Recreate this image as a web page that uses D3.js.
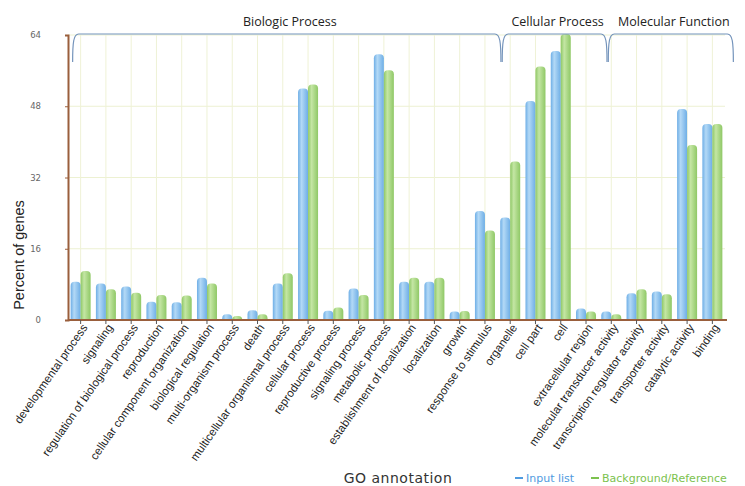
<!DOCTYPE html>
<html>
<head>
<meta charset="utf-8">
<script src="https://cdn.jsdelivr.net/npm/d3@7"></script>
<style>
  body { margin: 0; background: #fff; }
</style>
</head>
<body>
<div id="chart"></div>
<script>
var categories = [
    "developmental process", "signaling", "regulation of biological process", "reproduction",
    "cellular component organization", "biological regulation", "multi-organism process", "death",
    "multicellular organismal process", "cellular process", "reproductive process", "signaling process",
    "metabolic process", "establishment of localization", "localization", "growth",
    "response to stimulus", "organelle", "cell part", "cell", "extracellular region",
    "molecular transducer activity", "transcription regulator activity", "transporter activity",
    "catalytic activity", "binding"
];
var inputList = [8.6, 8.2, 7.5, 4.1, 4.0, 9.5, 1.3, 2.2, 8.2, 52.0, 2.1, 7.1, 59.7, 8.6, 8.6, 1.9,
    24.5, 23.0, 49.2, 60.4, 2.6, 1.9, 6.0, 6.4, 47.4, 44.0];
var background = [11.0, 6.9, 6.1, 5.6, 5.5, 8.2, 0.9, 1.3, 10.5, 52.9, 2.8, 5.6, 56.1, 9.5, 9.5, 2.0,
    20.1, 35.6, 56.9, 64.2, 1.9, 1.3, 6.9, 5.8, 39.3, 44.0];
var yTicks = [0, 16, 32, 48, 64];
var groups = [
    { name: "Biologic Process", first: 0, last: 16 },
    { name: "Cellular Process", first: 17, last: 20 },
    { name: "Molecular Function", first: 21, last: 25 }
];
var seriesNames = ["Input list", "Background/Reference"];

(function () {
    var width = 745, height = 486;
    var mLeft = 68, mRight = 725, mTop = 35, mBottom = 320;

    var svg = d3.select("#chart").append("svg")
        .attr("width", width)
        .attr("height", height)
        .style("font-family", "'Liberation Sans', Arial, sans-serif");

    var defs = svg.append("defs");
    function gradient(id, edge, light) {
        var g = defs.append("linearGradient").attr("id", id)
            .attr("x1", "0%").attr("x2", "100%").attr("y1", "0%").attr("y2", "0%");
        g.append("stop").attr("offset", "0%").attr("stop-color", edge);
        g.append("stop").attr("offset", "35%").attr("stop-color", light);
        g.append("stop").attr("offset", "100%").attr("stop-color", edge);
    }
    gradient("gBlue", "#6eaee6", "#b3d9f6");
    gradient("gGreen", "#8fc866", "#c4e6a4");

    var x = d3.scaleBand().domain(categories).range([mLeft, mRight]).padding(0);
    var y = d3.scaleLinear().domain([0, 64]).range([mBottom, mTop]);
    var bw = x.bandwidth();
    var barW = 10;

    // grid
    svg.append("g").selectAll("line").data(yTicks.slice(1)).enter().append("line")
        .attr("x1", mLeft).attr("x2", mRight)
        .attr("y1", function (d) { return y(d); }).attr("y2", function (d) { return y(d); })
        .attr("stroke", "#edf1d2").attr("stroke-width", 1);
    svg.append("g").selectAll("line").data(categories).enter().append("line")
        .attr("x1", function (d) { return x(d) + bw / 2; })
        .attr("x2", function (d) { return x(d) + bw / 2; })
        .attr("y1", mTop).attr("y2", mBottom)
        .attr("stroke", "#eff2d6").attr("stroke-width", 1);

    // bars with rounded tops
    function barPath(x0, w, v) {
        var yt = y(v), yb = y(0), r = Math.min(4, (yb - yt));
        return "M" + x0 + "," + yb + "L" + x0 + "," + (yt + r) +
            "Q" + x0 + "," + yt + " " + (x0 + r) + "," + yt +
            "L" + (x0 + w - r) + "," + yt +
            "Q" + (x0 + w) + "," + yt + " " + (x0 + w) + "," + (yt + r) +
            "L" + (x0 + w) + "," + yb + "Z";
    }
    var bars = svg.append("g");
    bars.selectAll(".blue").data(categories).enter().append("path")
        .attr("d", function (d, i) { return barPath(x(d) + bw / 2 - barW, barW, inputList[i]); })
        .attr("fill", "url(#gBlue)");
    bars.selectAll(".green").data(categories).enter().append("path")
        .attr("d", function (d, i) { return barPath(x(d) + bw / 2, barW, background[i]); })
        .attr("fill", "url(#gGreen)");

    // axes
    var yAxis = svg.append("g").attr("transform", "translate(" + mLeft + ",0)")
        .call(d3.axisLeft(y).tickValues(yTicks).tickSize(3).tickPadding(24));
    yAxis.select(".domain").attr("stroke", "#9a5f3c").attr("stroke-width", 2);
    yAxis.selectAll(".tick line").attr("stroke", "#9a5f3c");
    yAxis.selectAll("text").attr("fill", "#666").style("font-family", "'DejaVu Sans', sans-serif")
        .style("font-size", "8.5px");

    var xAxis = svg.append("g").attr("transform", "translate(0," + mBottom + ")")
        .call(d3.axisBottom(x).tickSize(4).tickSizeOuter(0));
    xAxis.select(".domain").attr("stroke", "#9a5f3c").attr("stroke-width", 2)
        .attr("d", "M" + mLeft + ",0H" + (mRight + 2));
    xAxis.selectAll(".tick line").attr("stroke", "#555");
    xAxis.selectAll("text")
        .attr("text-anchor", "end")
        .attr("dx", "-2")
        .attr("dy", "0.3em")
        .attr("y", 7)
        .attr("x", 0)
        .attr("transform", "rotate(-55)")
        .attr("fill", "#222")
        .style("font-size", "11.5px");

    // group brackets
    var bracketTop = y(64) - 1, bracketEnd = 62;
    var br = svg.append("g");
    groups.forEach(function (g, i) {
        var l = x(categories[g.first]) + bw / 2 - 8 + (i === 2 ? 5 : 0);
        var r = x(categories[g.last]) + bw / 2 + 16 + (i > 0 ? 5 : 0);
        br.append("path")
            .attr("d", "M" + l + "," + bracketEnd + "C" + l + "," + (bracketTop + 8) + " " + (l + 1) + "," + bracketTop + " " + (l + 6) + "," + bracketTop +
                "L" + (r - 6) + "," + bracketTop + "C" + (r - 1) + "," + bracketTop + " " + r + "," + (bracketTop + 8) + " " + r + "," + bracketEnd)
            .attr("fill", "none").attr("stroke", "#7393bb").attr("stroke-width", 1.2);
        br.append("text")
            .attr("x", (l + r) / 2 + 3).attr("y", 26)
            .attr("text-anchor", "middle")
            .style("font-family", "'Open Sans', sans-serif")
            .style("font-size", "12.5px")
            .attr("fill", "#222")
            .text(g.name);
    });

    // axis titles
    svg.append("text")
        .attr("transform", "translate(24,255) rotate(-90)")
        .attr("text-anchor", "middle")
        .style("font-size", "14.5px")
        .attr("fill", "#222")
        .text("Percent of genes");
    svg.append("text")
        .attr("x", 398).attr("y", 483)
        .attr("text-anchor", "middle")
        .style("font-family", "'DejaVu Sans', sans-serif")
        .style("font-size", "14px")
        .style("letter-spacing", "0.5px")
        .attr("fill", "#333")
        .text("GO annotation");

    // legend
    var legColors = ["#4f9be0", "#7cc24e"];
    var legX = [515, 591];
    seriesNames.forEach(function (s, i) {
        var g = svg.append("g").attr("transform", "translate(" + legX[i] + ",478)");
        g.append("line").attr("x1", 0).attr("x2", 8).attr("y1", 0).attr("y2", 0)
            .attr("stroke", legColors[i]).attr("stroke-width", 2);
        g.append("text").attr("x", 11).attr("y", 4)
            .style("font-family", "'DejaVu Sans', sans-serif")
            .style("font-size", "11px")
            .attr("fill", legColors[i])
            .text(s);
    });
})();
</script>
</body>
</html>
